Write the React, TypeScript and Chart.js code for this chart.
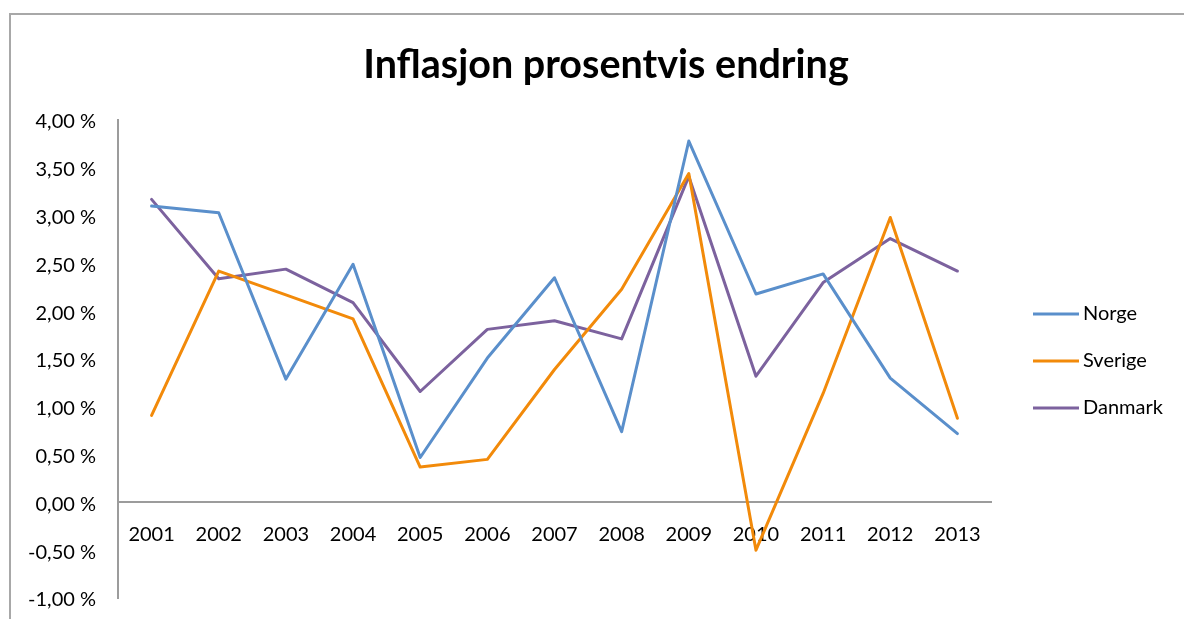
import React, { useEffect, useRef } from "react";
import { Chart, registerables } from "chart.js";

Chart.register(...registerables);

// Årlig inflasjon (prosent) per land
const years = ["2001", "2002", "2003", "2004", "2005", "2006", "2007", "2008", "2009", "2010", "2011", "2012", "2013"];
const norge = [3.1, 3.03, 1.29, 2.49, 0.47, 1.51, 2.35, 0.74, 3.78, 2.18, 2.39, 1.3, 0.72];
const sverige = [0.91, 2.42, 2.17, 1.92, 0.37, 0.45, 1.39, 2.23, 3.44, -0.5, 1.14, 2.98, 0.88];
const danmark = [3.17, 2.34, 2.44, 2.09, 1.16, 1.81, 1.9, 1.71, 3.41, 1.32, 2.3, 2.76, 2.42];

const titleText = "Inflasjon prosentvis endring";
const seriesNames = ["Norge", "Sverige", "Danmark"];
const seriesColors = ["#5A8FCB", "#F28A0A", "#7C629E"];

const FONT = "Lato, 'Open Sans', sans-serif";

const formatPct = (v: number) => v.toFixed(2).replace(".", ",") + " %";

// Grey frame lines along the top and left edge
const framePlugin = {
  id: "frame",
  beforeDraw(chart: any) {
    const ctx = chart.ctx;
    ctx.save();
    ctx.strokeStyle = "#a8a8a8";
    ctx.lineWidth = 2;
    ctx.beginPath();
    ctx.moveTo(10, chart.height);
    ctx.lineTo(10, 14);
    ctx.lineTo(chart.width, 14);
    ctx.stroke();
    ctx.restore();
  },
};

const titlePlugin = {
  id: "customTitle",
  afterDraw(chart: any) {
    const ctx = chart.ctx;
    ctx.save();
    ctx.fillStyle = "#000";
    ctx.font = `bold 39.5px ${FONT}`;
    ctx.textAlign = "center";
    ctx.textBaseline = "alphabetic";
    ctx.fillText(titleText, 606, 78);
    ctx.restore();
  },
};

// Legend on the right: short line sample followed by the series name
const legendPlugin = {
  id: "sideLegend",
  afterDraw(chart: any) {
    const ctx = chart.ctx;
    const x0 = 1033;
    const x1 = 1079;
    const yStart = 314;
    const gap = 47;
    ctx.save();
    ctx.font = `20px ${FONT}`;
    ctx.textAlign = "left";
    ctx.textBaseline = "middle";
    chart.data.datasets.forEach((ds: any, i: number) => {
      const y = yStart + i * gap;
      ctx.strokeStyle = ds.borderColor;
      ctx.lineWidth = 3;
      ctx.beginPath();
      ctx.moveTo(x0, y);
      ctx.lineTo(x1, y);
      ctx.stroke();
      ctx.fillStyle = "#000";
      ctx.fillText(ds.label, x1 + 4, y);
    });
    ctx.restore();
  },
};

export default function App() {
  const canvasRef = useRef<HTMLCanvasElement | null>(null);

  useEffect(() => {
    if (!canvasRef.current) return;
    const seriesData = [norge, sverige, danmark];
    const chart = new Chart(canvasRef.current, {
      type: "line",
      data: {
        labels: years,
        datasets: seriesData.map((d, i) => ({
          label: seriesNames[i],
          data: d,
          borderColor: seriesColors[i],
          backgroundColor: seriesColors[i],
          borderWidth: 3,
          pointRadius: 0,
          pointHoverRadius: 0,
          tension: 0,
          borderJoinStyle: "round" as const,
          borderCapStyle: "round" as const,
          fill: false,
        })),
      },
      options: {
        animation: false,
        responsive: false,
        maintainAspectRatio: false,
        layout: { padding: { top: 120, right: 193, bottom: 21, left: 0 } },
        plugins: {
          legend: { display: false },
          title: { display: false },
          tooltip: { enabled: false },
        },
        scales: {
          x: {
            type: "category",
            position: { y: 0 } as any,
            offset: true,
            // the category axis sits on the zero line, so it needs no room of its own
            afterFit(scale: any) {
              scale.height = 0;
            },
            grid: { display: false, drawTicks: false },
            border: { display: true, color: "#9c9c9c", width: 2 },
            ticks: {
              color: "#000",
              font: { family: FONT, size: 20 },
              padding: 20,
              maxRotation: 0,
              autoSkip: false,
            },
          },
          y: {
            type: "linear",
            position: "left",
            min: -1,
            max: 4,
            // fixed axis width; the layout padding already leaves room for the end labels
            afterFit(scale: any) {
              scale.width = 118;
              scale.paddingTop = 0;
              scale.paddingBottom = 0;
            },
            grid: { display: false, drawTicks: false },
            border: { display: true, color: "#9c9c9c", width: 2 },
            ticks: {
              stepSize: 0.5,
              color: "#000",
              font: { family: FONT, size: 20 },
              padding: 22,
              labelOffset: 2,
              callback: (v: any) => formatPct(Number(v)),
            },
          },
        },
      },
      plugins: [framePlugin, titlePlugin, legendPlugin],
    });
    return () => chart.destroy();
  }, []);

  return (
    <div style={{ position: "fixed", left: 0, top: 0, width: 1184, height: 619, background: "#fff" }}>
      <canvas ref={canvasRef} width={1184} height={619} style={{ display: "block" }} />
    </div>
  );
}
